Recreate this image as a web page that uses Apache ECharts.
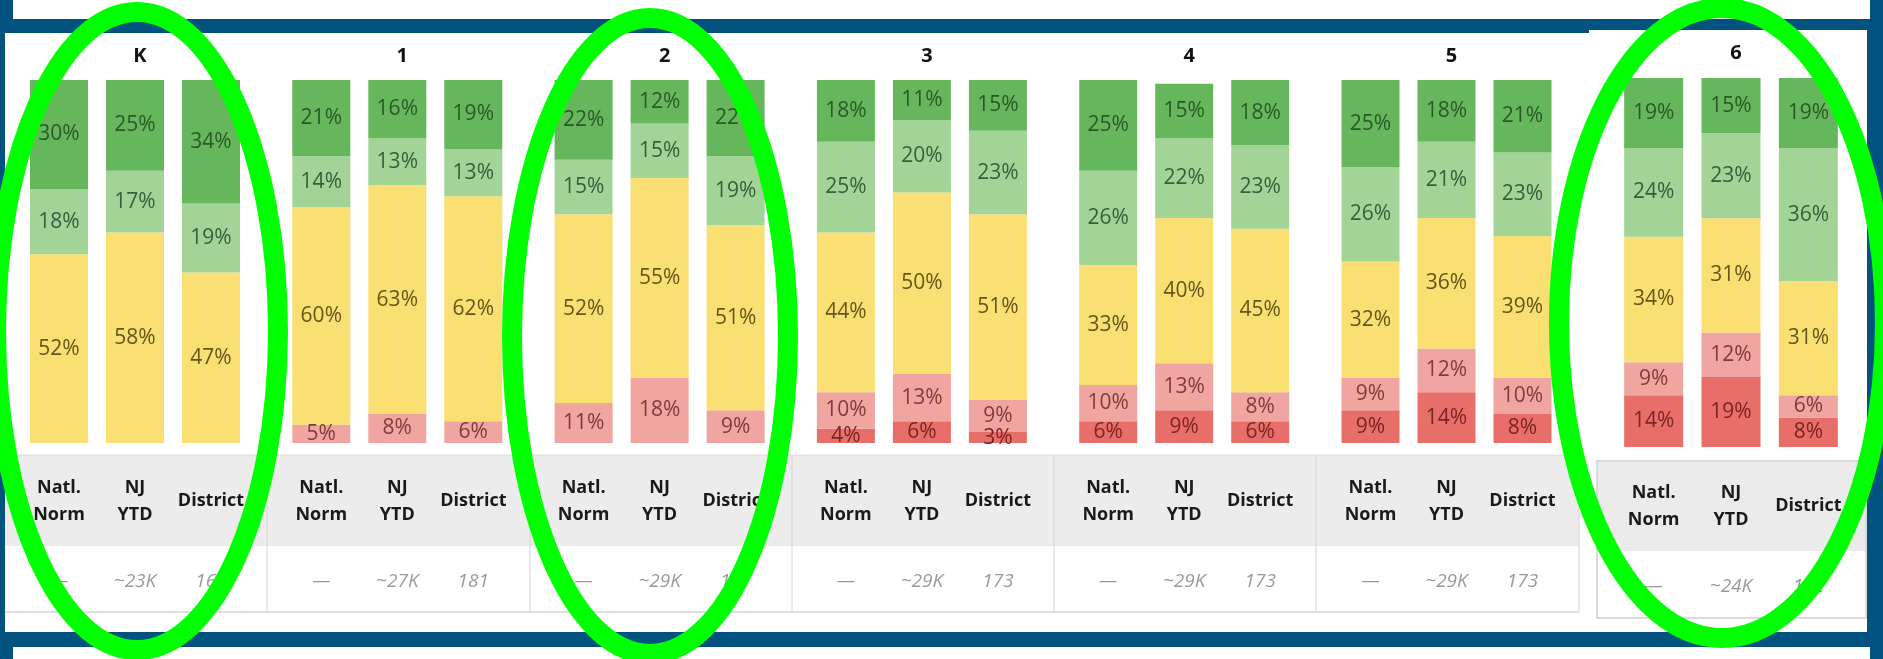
<!DOCTYPE html>
<html>
<head>
<meta charset="utf-8">
<script src="https://cdn.jsdelivr.net/npm/echarts@6/dist/echarts.min.js"></script>
<style>
  html, body { margin: 0; padding: 0; background: #01527e; }
  #chart { width: 1883px; height: 659px; }
</style>
</head>
<body>
<div id="chart"></div>
<script>
  // grades and the three comparison columns
  var grades = ['K', '1', '2', '3', '4', '5', '6']
  var columns = ['Natl.\nNorm', 'NJ\nYTD', 'District']

  // percent per level, one row per grade: [Natl. Norm, NJ YTD, District]
  var level1 = [[0, 0, 0], [0, 0, 0], [0, 0, 0], [4, 6, 3], [6, 9, 6], [9, 14, 8], [14, 19, 8]]
  var level2 = [[0, 0, 0], [5, 8, 6], [11, 18, 9], [10, 13, 9], [10, 13, 8], [9, 12, 10], [9, 12, 6]]
  var level3 = [[52, 58, 47], [60, 63, 62], [52, 55, 51], [44, 50, 51], [33, 40, 45], [32, 36, 39], [34, 31, 31]]
  var level4 = [[18, 17, 19], [14, 13, 13], [15, 15, 19], [25, 20, 23], [26, 22, 23], [26, 21, 23], [24, 23, 36]]
  var level5 = [[30, 25, 34], [21, 16, 19], [22, 12, 22], [18, 11, 15], [25, 15, 18], [25, 18, 21], [19, 15, 19]]

  // students tested
  var counts = [
    ['—', '~23K', '165'],
    ['—', '~27K', '181'],
    ['—', '~29K', '157'],
    ['—', '~29K', '173'],
    ['—', '~29K', '173'],
    ['—', '~29K', '173'],
    ['—', '~24K', '172']
  ]

  var levels = [level1, level2, level3, level4, level5]
  var fills = ['#e86f69', '#f1a5a0', '#fadf72', '#a3d497', '#66b75c']
  var textColors = ['#7a2424', '#7f3c3a', '#655619', '#35603a', '#285a28']

  var font = '"Open Sans", "Noto Sans", sans-serif'

  // panel geometry
  function grid (g) {
    if (g === 6) return { left: 1615, top: 78, width: 232, height: 369 }
    return { left: 21 + 262.3 * g, top: 80, width: 228, height: 363 }
  }

  var grids = []
  var xHead = []
  var xCount = []
  var yAxes = []
  var titles = []
  var series = []

  grades.forEach(function (gr, g) {
    var box = grid(g)
    grids.push(box)
    var bottom = box.top + box.height
    xHead.push({
      type: 'category',
      gridIndex: g,
      data: columns,
      axisLine: { show: false },
      axisTick: { show: false },
      axisLabel: {
        interval: 0,
        margin: (g === 6 ? 506 : 501) - bottom,
        verticalAlign: 'middle',
        color: '#1a1a1a',
        fontFamily: font,
        fontWeight: 'bold',
        fontSize: 18,
        lineHeight: 27
      }
    })
    xCount.push({
      type: 'category',
      gridIndex: g,
      position: 'bottom',
      data: counts[g],
      axisLine: { show: false },
      axisTick: { show: false },
      axisLabel: {
        interval: 0,
        margin: (g === 6 ? 587 : 582) - bottom,
        verticalAlign: 'middle',
        color: '#9a9a9a',
        fontFamily: font,
        fontStyle: 'italic',
        fontSize: 19
      }
    })
    yAxes.push({ type: 'value', gridIndex: g, min: 0, max: 100, show: false })
    titles.push({
      text: gr,
      left: box.left + box.width / 2,
      top: g === 6 ? 38 : 41,
      textAlign: 'center',
      textStyle: { fontFamily: font, fontSize: 20, fontWeight: 'bold', color: '#111' }
    })
    levels.forEach(function (lv, k) {
      series.push({
        type: 'bar',
        xAxisIndex: g,
        yAxisIndex: g,
        stack: 'grade' + g,
        barWidth: g === 6 ? 59 : 58,
        data: lv[g],
        itemStyle: { color: fills[k] },
        label: {
          show: true,
          position: 'inside',
          color: textColors[k],
          fontFamily: font,
          fontSize: 21,
          formatter: function (p) { return p.value ? p.value + '%' : '' }
        }
      })
    })
  })

  // table lines and panel backgrounds
  var graphics = [
    { type: 'rect', z: -20, shape: { x: 13, y: 0, width: 1857, height: 19 }, style: { fill: '#fff' } },
    { type: 'rect', z: -20, shape: { x: 5, y: 33, width: 1586, height: 599 }, style: { fill: '#fff' } },
    { type: 'rect', z: -20, shape: { x: 1589, y: 30, width: 278, height: 602 }, style: { fill: '#fff' } },
    { type: 'rect', z: -20, shape: { x: 13, y: 647, width: 1857, height: 12 }, style: { fill: '#fff' } },
    { type: 'rect', z: -10, shape: { x: 5, y: 455, width: 1574, height: 91 }, style: { fill: '#ececec' } },
    { type: 'line', z: -5, shape: { x1: 5, y1: 455, x2: 1579, y2: 455 }, style: { stroke: '#dcdcdc', lineWidth: 1 } },
    { type: 'line', z: -5, shape: { x1: 5, y1: 612, x2: 1579, y2: 612 }, style: { stroke: '#d4d4d4', lineWidth: 1.5 } },
    { type: 'line', z: -5, shape: { x1: 1579, y1: 455, x2: 1579, y2: 612 }, style: { stroke: '#d4d4d4', lineWidth: 1 } },
    { type: 'rect', z: -10, shape: { x: 1597, y: 461, width: 269, height: 157 }, style: { fill: '#fff', stroke: '#cfcfcf', lineWidth: 1.5 } },
    { type: 'rect', z: -9, shape: { x: 1598, y: 462, width: 267, height: 89 }, style: { fill: '#ebebeb' } }
  ]
  ;[267, 530, 792, 1054, 1316].forEach(function (x) {
    graphics.push({ type: 'line', z: -5, shape: { x1: x, y1: 455, x2: x, y2: 612 }, style: { stroke: '#d4d4d4', lineWidth: 1 } })
  })

  // green highlight rings
  var rings = [[137, 331, 141, 319], [650, 336, 138, 318], [1722, 323, 163, 315]]
  rings.forEach(function (r) {
    graphics.push({
      type: 'ellipse',
      z: 100,
      shape: { cx: r[0], cy: r[1], rx: r[2], ry: r[3] },
      style: { fill: 'none', stroke: '#00ff00', lineWidth: 20 }
    })
  })

  var chart = echarts.init(document.getElementById('chart'))
  chart.setOption({
    animation: false,
    title: titles,
    grid: grids,
    xAxis: xHead.concat(xCount),
    yAxis: yAxes,
    series: series,
    graphic: graphics
  })
</script>
</body>
</html>
